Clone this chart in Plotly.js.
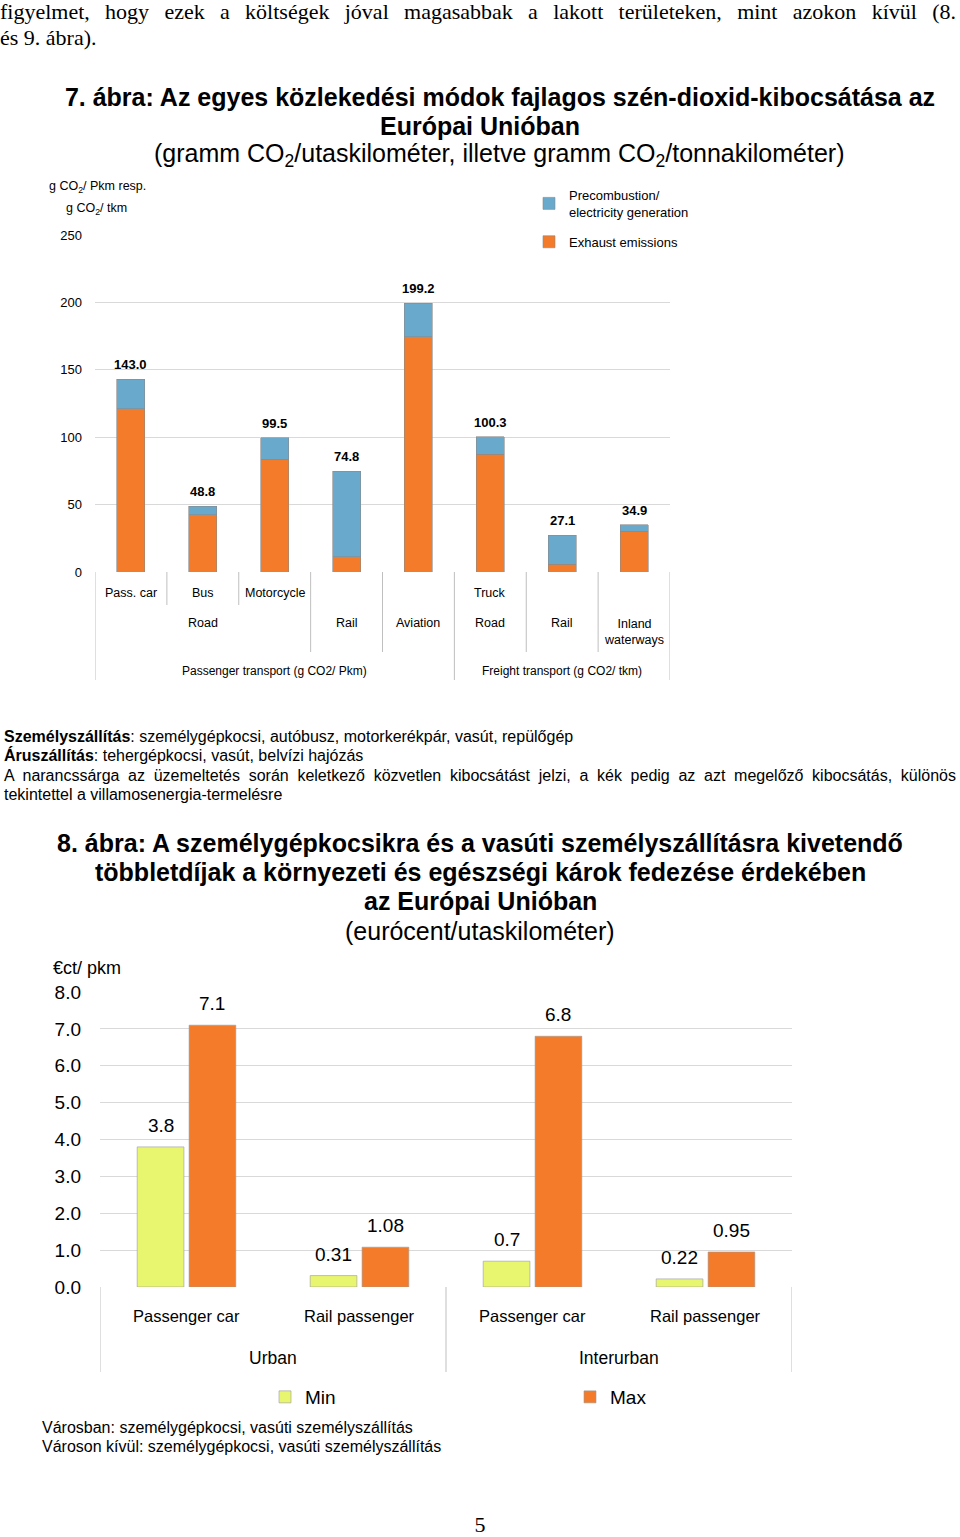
<!DOCTYPE html>
<html><head><meta charset="utf-8">
<script src="https://cdn.plot.ly/plotly-3.0.1.min.js"></script>
<style>
body{margin:0;background:#fff;}
#page{position:relative;width:960px;height:1537px;overflow:hidden;font-family:'Liberation Sans',Arial,sans-serif;color:#000;background:#fff;}
.t{position:absolute;white-space:nowrap;}
.j{text-align:justify;text-align-last:justify;white-space:nowrap;}
#c1{position:absolute;left:0;top:80px;width:960px;height:610px;}
#c2{position:absolute;left:0;top:830px;width:960px;height:590px;}
</style></head><body><div id="page">
<div class="t j" style="left:0;top:-1px;width:956px;font:22px/26px 'Liberation Serif','Times New Roman',serif;">figyelmet, hogy ezek a költségek jóval magasabbak a lakott területeken, mint azokon kívül (8.</div>
<div class="t" style="left:0;top:25px;font:22px/26px 'Liberation Serif','Times New Roman',serif;">és 9. ábra).</div>
<div id="c1"></div>
<div class="t" style="left:4px;top:727px;font:16px/20px 'Liberation Sans',Arial,sans-serif;"><b>Személyszállítás</b>: személygépkocsi, autóbusz, motorkerékpár, vasút, repülőgép</div>
<div class="t" style="left:4px;top:746px;font:16px/20px 'Liberation Sans',Arial,sans-serif;"><b>Áruszállítás</b>: tehergépkocsi, vasút, belvízi hajózás</div>
<div class="t j" style="left:4px;top:766px;width:952px;font:16px/20px 'Liberation Sans',Arial,sans-serif;">A narancssárga az üzemeltetés során keletkező közvetlen kibocsátást jelzi, a kék pedig az azt megelőző kibocsátás, különös</div>
<div class="t" style="left:4px;top:785px;font:16px/20px 'Liberation Sans',Arial,sans-serif;">tekintettel a villamosenergia-termelésre</div>
<div id="c2"></div>
<div class="t" style="left:42px;top:1418px;font:16px/20px 'Liberation Sans',Arial,sans-serif;">Városban: személygépkocsi, vasúti személyszállítás</div>
<div class="t" style="left:42px;top:1437px;font:16px/20px 'Liberation Sans',Arial,sans-serif;">Városon kívül: személygépkocsi, vasúti személyszállítás</div>
<div class="t" style="left:0;width:960px;text-align:center;top:1515px;font:22px/20px 'Liberation Serif','Times New Roman',serif;">5</div>
</div>
<script>
// ---------- Chart 7 data ----------
const categories1 = ['Pass. car','Bus','Motorcycle','Rail','Aviation','Truck','Rail','Inland waterways'];
const level1Labels = ['Pass. car','Bus','Motorcycle','','','Truck','',''];
const level2Labels = ['Road','Rail','Aviation','Road','Rail','Inland<br>waterways'];
const level3Labels = ['Passenger transport (g CO2/ Pkm)','Freight transport (g CO2/ tkm)'];
const exhaust = [121.0, 42.5, 83.5, 11.4, 174.6, 87.2, 5.7, 30.4];
const precombustion = [22.0, 6.3, 16.0, 63.4, 24.6, 13.1, 21.4, 4.5];
const yTicks1 = [0, 50, 100, 150, 200, 250];

// ---------- Chart 8 data ----------
const groups2 = ['Urban','Urban','Interurban','Interurban'];
const modes2 = ['Passenger car','Rail passenger','Passenger car','Rail passenger'];
const minVals = [3.8, 0.31, 0.7, 0.22];
const maxVals = [7.1, 1.08, 6.8, 0.95];
const minLabels = ['3.8','0.31','0.7','0.22'];
const maxLabels = ['7.1','1.08','6.8','0.95'];
const yTicks2 = [0,1,2,3,4,5,6,7,8];

const NARROW = "'Liberation Sans Narrow', 'Liberation Sans', Arial, sans-serif";
const SANS = "'Liberation Sans', Arial, sans-serif";
const ORANGE = '#F47B2A', BLUE = '#68A9CC', LIME = '#E8F56F';
const GRID = '#D9D9D9', SEP = '#BFBFBF';

// ---------- Chart 7 ----------
(function(){
  const divTop = 80, H = 610, L = 95, R = 670, T = 235, B = 572;
  const px = p => (p - L) / (R - L);
  const py = p => (B - p) / (B - T);
  const xIdx = categories1.map((_, i) => i);
  const totals = exhaust.map((v, i) => v + precombustion[i]);
  const traces = [
    {type:'bar', x:xIdx, y:exhaust, name:'Exhaust emissions', legendgroup:'exh', legendrank:2,
     marker:{color:ORANGE, line:{color:'#8a8a8a', width:0.6}}, hoverinfo:'y'},
    {type:'bar', x:xIdx, y:precombustion, name:'Precombustion/<br>electricity generation', legendgroup:'pre', legendrank:1,
     marker:{color:BLUE, line:{color:'#8a8a8a', width:0.6}}, hoverinfo:'y'}
  ];
  const ann = [];
  const title2 = {xref:'paper', yref:'paper', x:px(480), y:py(126), xanchor:'center', yanchor:'middle', showarrow:false,
     text:'<b>Európai Unióban</b>', font:{family:SANS, size:25, color:'#000'}};
  const title3 = {xref:'paper', yref:'paper', x:px(499), y:py(155), xanchor:'center', yanchor:'middle', showarrow:false,
     text:'(gramm CO<sub>2</sub>/utaskilométer, illetve gramm CO<sub>2</sub>/tonnakilométer)', font:{family:SANS, size:25, color:'#000'}};
  ann.push(title2, title3);
  ann.push({xref:'paper', yref:'paper', x:px(47), y:py(187), xanchor:'left', yanchor:'middle', showarrow:false,
            text:'g CO<sub>2</sub>/ Pkm resp.', font:{family:NARROW, size:12.5, color:'#000'}});
  ann.push({xref:'paper', yref:'paper', x:px(64), y:py(209), xanchor:'left', yanchor:'middle', showarrow:false,
            text:'g CO<sub>2</sub>/ tkm', font:{family:NARROW, size:12.5, color:'#000'}});
  level1Labels.forEach((t, i) => { if (t) ann.push({xref:'x', yref:'paper', x:i, y:py(593), showarrow:false,
     yanchor:'middle', text:t, font:{family:NARROW, size:12.5, color:'#000'}}); });
  const l2x = [1, 3, 4, 5, 6, 7];
  level2Labels.forEach((t, k) => ann.push({xref:'x', yref:'paper', x:l2x[k], y:py(t.indexOf('<br>')>=0 ? 632 : 623),
     showarrow:false, yanchor:'middle', text:t, font:{family:NARROW, size:12.5, color:'#000'}}));
  const l3x = [2, 6];
  level3Labels.forEach((t, k) => ann.push({xref:'x', yref:'paper', x:l3x[k], y:py(671), showarrow:false,
     yanchor:'middle', text:t, font:{family:NARROW, size:12, color:'#000'}}));
  totals.forEach((v, i) => ann.push({xref:'x', yref:'y', x:i, y:v, yanchor:'bottom', yshift:5, showarrow:false,
     text:'<b>' + v.toFixed(1) + '</b>', font:{family:SANS, size:13, color:'#000'}}));
  const sepX = [-0.5, 0.5, 1.5, 2.5, 3.5, 4.5, 5.5, 6.5, 7.5];
  const sepDepth = [108, 33, 33, 80, 80, 108, 80, 80, 108];
  const shapes = sepX.map((x, k) => ({type:'line', xref:'x', yref:'paper', x0:x, x1:x, y0:0, y1:-sepDepth[k]/(B - T),
     line:{color:SEP, width:1}}));
  const layout = {
    width:960, height:H, margin:{l:L, r:960 - R, t:T - divTop, b:divTop + H - B, autoexpand:false},
    paper_bgcolor:'#fff', plot_bgcolor:'#fff', barmode:'stack', bargap:0.61,
    title:{text:'<b>7. ábra: Az egyes közlekedési módok fajlagos szén-dioxid-kibocsátása az</b>',
      font:{family:SANS, size:25, color:'#000'}, xref:'container', x:500/960, xanchor:'center',
      yref:'container', y:1 - (97 - divTop)/H, yanchor:'middle'},
    xaxis:{range:[-0.5, 7.5], showticklabels:false, showgrid:false, zeroline:false, showline:false, ticks:'', fixedrange:true},
    yaxis:{range:[0, 250], tickvals:yTicks1, ticktext:yTicks1.map(String), gridcolor:GRID, gridwidth:1, zeroline:false,
      showline:false, ticks:'', ticklabelstandoff:12, tickfont:{family:SANS, size:13, color:'#000'}, fixedrange:true},
    legend:{xref:'paper', yref:'paper', x:px(529), y:py(180), xanchor:'left', yanchor:'top',
      traceorder:'grouped', tracegroupgap:10, bgcolor:'#fff', font:{family:NARROW, size:13, color:'#000'}},
    showlegend:true, annotations:ann, shapes:shapes
  };
  Plotly.newPlot('c1', traces, layout, {displayModeBar:false, staticPlot:true});
})();

// ---------- Chart 8 ----------
(function(){
  const divTop = 830, H = 590, L = 100, R = 792, T = 992, B = 1287;
  const px = p => (p - L) / (R - L);
  const py = p => (B - p) / (B - T);
  const xIdx = modes2.map((_, i) => i);
  const traces = [
    {type:'bar', x:xIdx, y:minVals, name:'Min', marker:{color:LIME, line:{color:'#9a9a9a', width:0.6}}, hoverinfo:'y'},
    {type:'bar', x:xIdx, y:maxVals, name:'Max', marker:{color:ORANGE, line:{color:'#9a9a9a', width:0.6}}, hoverinfo:'y'}
  ];
  const ann = [];
  const titleLines = [
    {text:'<b>többletdíjak a környezeti és egészségi károk fedezése érdekében</b>', y:872},
    {text:'<b>az Európai Unióban</b>', y:901},
    {text:'(eurócent/utaskilométer)', y:931}
  ];
  titleLines.forEach(l => ann.push({xref:'paper', yref:'paper', x:px(480), y:py(l.y), xanchor:'center', yanchor:'middle',
     showarrow:false, text:l.text, font:{family:SANS, size:25, color:'#000'}}));
  ann.push({xref:'paper', yref:'paper', x:px(51), y:py(968), xanchor:'left', yanchor:'middle', showarrow:false,
            text:'€ct/ pkm', font:{family:NARROW, size:18, color:'#000'}});
  const slot = (R - L) / modes2.length * (1 - 0.4) / 2;
  minVals.forEach((v, i) => ann.push({xref:'x', yref:'y', x:i, y:v, xshift:-slot/2, yshift:9, yanchor:'bottom',
     showarrow:false, text:minLabels[i], font:{family:SANS, size:19, color:'#000'}}));
  maxVals.forEach((v, i) => ann.push({xref:'x', yref:'y', x:i, y:v, xshift:slot/2, yshift:9, yanchor:'bottom',
     showarrow:false, text:maxLabels[i], font:{family:SANS, size:19, color:'#000'}}));
  modes2.forEach((t, i) => ann.push({xref:'x', yref:'paper', x:i, y:py(1316), yanchor:'middle', showarrow:false,
     text:t, font:{family:NARROW, size:16.5, color:'#000'}}));
  const gNames = [], gPos = [];
  groups2.forEach((g, i) => { const k = gNames.indexOf(g); if (k < 0) { gNames.push(g); gPos.push([i]); } else gPos[k].push(i); });
  gNames.forEach((g, k) => { const c = gPos[k].reduce((a, b) => a + b, 0) / gPos[k].length;
     ann.push({xref:'x', yref:'paper', x:c, y:py(1358), yanchor:'middle', showarrow:false, text:g,
       font:{family:NARROW, size:17.5, color:'#000'}}); });
  const sepX = [-0.5, 1.5, 3.5];
  const shapes = sepX.map(x => ({type:'line', xref:'x', yref:'paper', x0:x, x1:x, y0:0, y1:-85/(B - T),
     line:{color:SEP, width:1}}));
  const layout = {
    width:960, height:H, margin:{l:L, r:960 - R, t:T - divTop, b:divTop + H - B, autoexpand:false},
    paper_bgcolor:'#fff', plot_bgcolor:'#fff', barmode:'group', bargap:0.4, bargroupgap:0.1,
    title:{text:'<b>8. ábra: A személygépkocsikra és a vasúti személyszállításra kivetendő</b>',
      font:{family:SANS, size:25, color:'#000'}, xref:'container', x:0.5, xanchor:'center',
      yref:'container', y:1 - (843 - divTop)/H, yanchor:'middle'},
    xaxis:{range:[-0.5, 3.5], showticklabels:false, showgrid:false, zeroline:false, showline:false, ticks:'', fixedrange:true},
    yaxis:{range:[0, 8], tickvals:yTicks2, ticktext:yTicks2.map(v => v.toFixed(1)), gridcolor:GRID, gridwidth:1,
      zeroline:false, showline:false, ticks:'', ticklabelstandoff:18, tickfont:{family:SANS, size:19, color:'#000'}, fixedrange:true},
    legend:{orientation:'h', xref:'paper', yref:'paper', x:px(265), y:py(1397),
      xanchor:'left', yanchor:'middle', entrywidth:260, entrywidthmode:'pixels', traceorder:'normal',
      bgcolor:'rgba(0,0,0,0)', font:{family:NARROW, size:19, color:'#000'}},
    showlegend:true, annotations:ann, shapes:shapes
  };
  Plotly.newPlot('c2', traces, layout, {displayModeBar:false, staticPlot:true});
})();
</script>
</body></html>
